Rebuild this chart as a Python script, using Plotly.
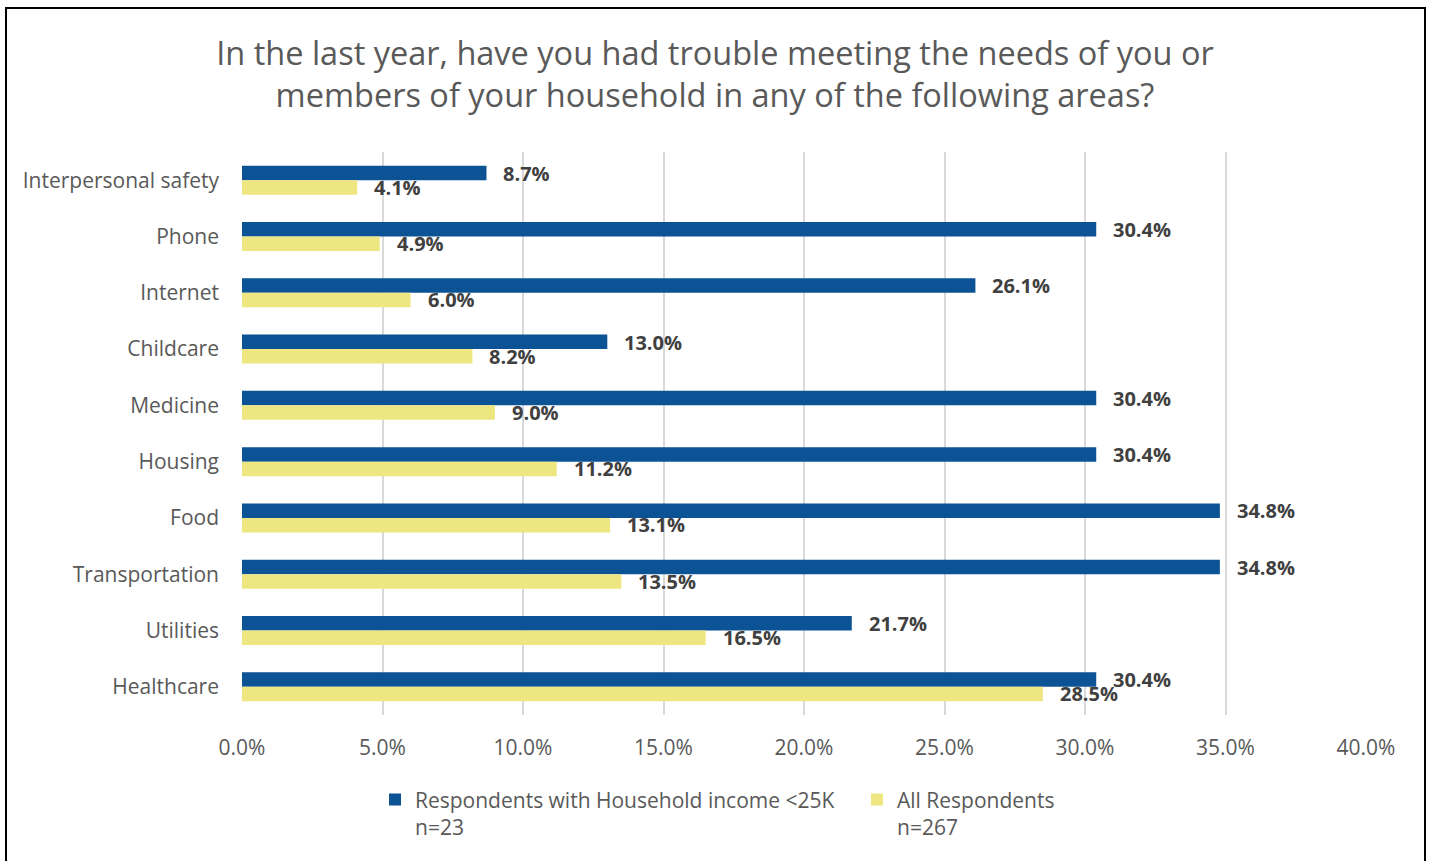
import plotly.graph_objects as go

# Survey areas, listed top to bottom as displayed
categories = ["Interpersonal safety", "Phone", "Internet", "Childcare", "Medicine",
              "Housing", "Food", "Transportation", "Utilities", "Healthcare"]

# Share of respondents (%) reporting trouble meeting needs
low_income = [8.7, 30.4, 26.1, 13.0, 30.4, 30.4, 34.8, 34.8, 21.7, 30.4]
all_resp = [4.1, 4.9, 6.0, 8.2, 9.0, 11.2, 13.1, 13.5, 16.5, 28.5]

series_names = ["Respondents with Household income <25K<br>n=23",
                "All Respondents<br>n=267"]
series_colors = ["#0B5394", "#EEE680"]

x_ticks = [0, 5, 10, 15, 20, 25, 30, 35, 40]

FONT = "Open Sans"
GREY = "#595959"
DARK = "#404040"

fig = go.Figure()
for name, vals, color in zip(series_names, [low_income, all_resp], series_colors):
    fig.add_trace(go.Bar(
        y=categories, x=vals, name=name, orientation="h",
        marker=dict(color=color, line=dict(width=0)),
        hoverinfo="x+y",
    ))

# Bold value labels just past the end of each bar
for vals, shift in [(low_income, 7), (all_resp, -7)]:
    for cat, v in zip(categories, vals):
        fig.add_annotation(
            x=v, y=cat, text=f"<b>{v:.1f}%</b>", showarrow=False,
            xanchor="left", yanchor="middle", xshift=15, yshift=shift,
            font=dict(family=FONT, size=20, color=DARK),
        )

L, R, T, B = 242, 64, 152, 146
W, H = 1430, 861
pw, ph = W - L - R, H - T - B

# Outer frame around the whole chart
fig.add_shape(
    type="rect", xref="paper", yref="paper", layer="above",
    x0=(6 - L) / pw, x1=(1425 - L) / pw,
    y0=(H - B - 880) / ph, y1=(H - B - 8) / ph,
    line=dict(color="#000000", width=2), fillcolor="rgba(0,0,0,0)",
)

fig.update_layout(
    width=W, height=H,
    margin=dict(l=L, r=R, t=T, b=B),
    paper_bgcolor="white", plot_bgcolor="white",
    barmode="group", bargap=0.485, bargroupgap=0,
    title=dict(
        text="In the last year, have you had trouble meeting the needs of you or<br>"
             "members of your household in any of the following areas?",
        x=0.5, xref="container", xanchor="center",
        y=1 - 65 / H, yanchor="middle",
        font=dict(family=FONT, size=32.5, color=GREY),
    ),
    xaxis=dict(
        range=[0, 40], tickvals=x_ticks,
        ticktext=[f"{t:.1f}%" for t in x_ticks],
        showgrid=True, gridcolor="#D9D9D9", gridwidth=2,
        zeroline=False, showline=False, ticks="",
        ticklabelstandoff=18,
        tickfont=dict(family=FONT, size=21, color=GREY),
    ),
    yaxis=dict(
        autorange="reversed", showgrid=False, zeroline=False, showline=False,
        ticks="", ticklabelstandoff=22,
        tickfont=dict(family=FONT, size=21, color=GREY),
    ),
    legend=dict(
        orientation="h", x=(375 - L) / pw, xanchor="left",
        y=-0.1145, yanchor="top", valign="top",
        traceorder="normal", entrywidth=437, entrywidthmode="pixels",
        font=dict(family=FONT, size=21, color=GREY),
    ),
    showlegend=True,
)

fig.write_html("out.html")
